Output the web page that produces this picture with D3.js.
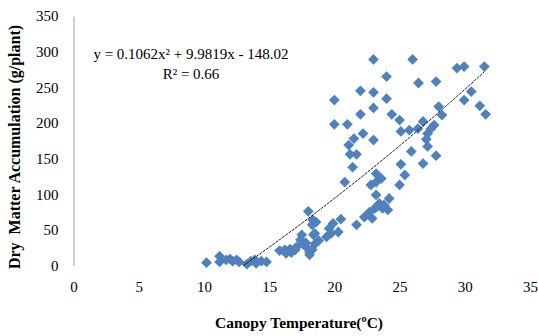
<!DOCTYPE html>
<html>
<head>
<meta charset="utf-8">
<script src="https://cdn.jsdelivr.net/npm/d3@7"></script>
<style>
  body { margin: 0; background: #fff; }
  text { font-family: "Liberation Serif", "Times New Roman", serif; fill: #000; }
</style>
</head>
<body>
<div id="chart"></div>
<script>
// values
const canopyTemp = [
  10.2, 11.2, 11.2, 11.7, 12.0, 12.2, 12.5, 12.7, 13.3, 13.6, 13.9, 14.0, 14.4, 14.8,
  15.8, 16.2, 16.3, 16.6, 16.7, 17.0, 17.1, 17.4, 17.5, 17.6, 17.8, 17.9, 18.0, 18.1,
  18.1, 18.3, 18.35, 18.4, 18.5, 18.5, 18.6, 18.8, 18.3,
  19.4, 19.6, 19.75, 19.9, 20.3, 20.5, 20.8, 21.2, 21.4, 21.7, 21.7, 22.3, 22.7, 22.9,
  23.1, 23.3, 23.45, 23.7, 23.8, 24.1, 24.2, 23.2, 23.2, 22.8, 23.6, 23.2, 25.0, 25.1,
  25.4, 26.8, 25.9,
  23.0, 26.0, 24.0, 26.45, 20.0, 22.0, 23.0, 24.0, 22.0, 23.0, 24.4, 20.0, 21.0, 25.0,
  22.2, 21.5, 23.0, 21.1, 25.1, 25.75, 26.4, 26.8, 27.15, 27.05, 27.15,
  29.4, 29.95, 31.5, 27.8, 30.5, 29.95, 31.15, 31.6, 28.0, 28.25, 27.65, 27.4, 27.8
];
const dryMatter = [
  4, 13, 5, 8, 9, 6, 8, 5, 2, 6, 8, 3, 6, 5,
  21, 22, 17, 23, 18, 22, 26, 36, 43, 30, 32, 25, 76, 19,
  15, 22, 64, 43, 45, 30, 61, 35, 57,
  40, 52, 45, 59, 47, 65, 117, 156, 138, 156, 57, 68, 75, 66,
  80, 83, 87, 80, 85, 78, 94, 99, 117, 113, 122, 129, 113, 142,
  127, 143, 160,
  289, 289, 265, 256, 232, 245, 243, 234, 212, 221, 212, 198, 198, 204,
  185, 178, 176, 169, 188, 190, 192, 202, 185, 177, 167,
  277, 279, 279, 258, 244, 232, 224, 212, 223, 211, 197, 192, 154
];

const xTicks = [0, 5, 10, 15, 20, 25, 30, 35];
const yTicks = [0, 50, 100, 150, 200, 250, 300, 350];

// polynomial trendline as printed on the chart: a*x^2 + b*x + c
const trendCoef = [0.1062, 9.9819, -148.02];
const trendRange = [13, 31.5];

const eqLabel = "y = 0.1062x\u00b2 + 9.9819x - 148.02";
const r2Label = "R\u00b2 = 0.66";
const xTitle = "Canopy Temperature(\u00baC)";
const yTitle = "Dry  Matter Accumulation (g/plant)";

const width = 538, height = 336;

let svg = d3.select("#chart").append("svg")
    .attr("width", width)
    .attr("height", height);

let xScale = d3.scaleLinear().domain([0, 35]).range([73.5, 530]);
let yScale = d3.scaleLinear().domain([0, 350]).range([265.5, 16]);

// y axis: plain grey line, labels only
let yAxis = svg.append("g")
    .attr("transform", "translate(" + xScale(0) + ",0)")
    .call(d3.axisLeft(yScale).tickValues(yTicks).tickSize(0).tickPadding(15));
yAxis.select(".domain").attr("stroke", "#9a9a9a").attr("stroke-width", 1);
yAxis.selectAll("text").attr("font-size", 15).attr("font-family", "Liberation Serif");

// x axis: no line, labels only
let xAxis = svg.append("g")
    .attr("transform", "translate(0," + 281 + ")")
    .call(d3.axisBottom(xScale).tickValues(xTicks).tickSize(0).tickPadding(0));
xAxis.select(".domain").remove();
xAxis.selectAll("text").attr("font-size", 15).attr("font-family", "Liberation Serif");

// trendline
let trendPts = [];
for (let t = trendRange[0]; t <= trendRange[1] + 1e-9; t += 0.25) {
  trendPts.push([t, trendCoef[0] * t * t + trendCoef[1] * t + trendCoef[2]]);
}

// markers
let diamond = d3.symbol().type(d3.symbolSquare).size(58);
svg.append("g").selectAll("path")
    .data(canopyTemp.map((v, i) => [v, dryMatter[i]]))
    .join("path")
    .attr("d", diamond)
    .attr("transform", d => "translate(" + xScale(d[0]) + "," + yScale(d[1]) + ") rotate(45)")
    .attr("fill", "#4f81bd");

let lineGen = d3.line()
    .x(d => xScale(d[0]))
    .y(d => yScale(d[1]));
svg.append("path")
    .attr("d", lineGen(trendPts))
    .attr("fill", "none")
    .attr("stroke", "#000")
    .attr("stroke-width", 0.9)
    .attr("stroke-dasharray", "3,1");

// equation label
svg.append("text")
    .attr("x", 191).attr("y", 59)
    .attr("text-anchor", "middle")
    .attr("font-size", 15)
    .text(eqLabel);
svg.append("text")
    .attr("x", 191).attr("y", 79)
    .attr("text-anchor", "middle")
    .attr("font-size", 15)
    .text(r2Label);

// axis titles
svg.append("text")
    .attr("x", 299).attr("y", 328)
    .attr("text-anchor", "middle")
    .attr("font-size", 15.5)
    .attr("font-weight", "bold")
    .text(xTitle);
svg.append("text")
    .attr("transform", "translate(20,147) rotate(-90)")
    .attr("text-anchor", "middle")
    .attr("font-size", 16)
    .attr("font-weight", "bold")
    .style("white-space", "pre")
    .text(yTitle);
</script>
</body>
</html>
